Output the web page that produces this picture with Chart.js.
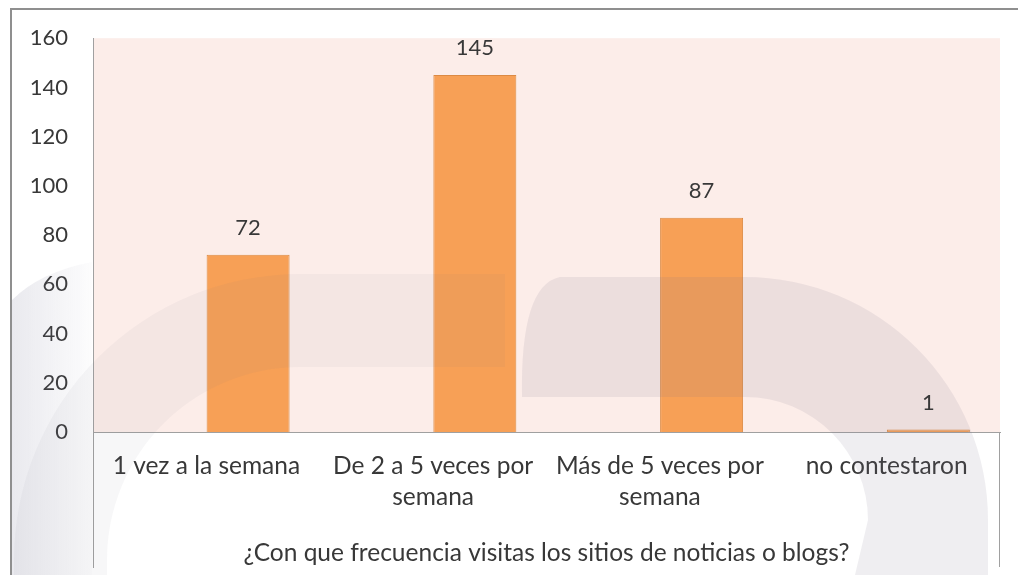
<!DOCTYPE html>
<html>
<head>
<meta charset="utf-8">
<script src="https://cdn.jsdelivr.net/npm/chart.js@4.4.1/dist/chart.umd.min.js"></script>
<style>
    html, body { margin: 0; padding: 0; background: #ffffff; }
    #frecuenciaChart { display: block; }
</style>
</head>
<body>
<canvas id="frecuenciaChart" width="1018" height="575"></canvas>
<script>
// Chart data
const categories = [
    '1 vez a la semana',
    ['De 2 a 5 veces por', 'semana'],
    ['Más de 5 veces por', 'semana'],
    'no contestaron'
];
const positions = [0, 1, 2, 3];
const respuestas = [72, 145, 87, 1];
const yTicks = [0, 20, 40, 60, 80, 100, 120, 140, 160];
const axisTitle = '¿Con que frecuencia visitas los sitios de noticias o blogs?';

const textColor = '#383838';
const fontFamily = 'Lato, "Open Sans", sans-serif';

// Background: frame, pink plot area and the faint watermark
const backgroundPlugin = {
    id: 'background',
    beforeDraw(chart) {
        const ctx = chart.ctx;
        const area = chart.chartArea;
        ctx.save();
        ctx.fillStyle = '#fcede9';
        ctx.fillRect(area.left, area.top, area.right - area.left, area.bottom - area.top);

        // outer frame
        ctx.strokeStyle = '#8f8f8f';
        ctx.lineWidth = 2;
        ctx.beginPath();
        ctx.moveTo(11, 575);
        ctx.lineTo(11, 9);
        ctx.lineTo(1018, 9);
        ctx.stroke();

        // lines around the label area
        ctx.strokeStyle = '#a0a0a0';
        ctx.lineWidth = 1;
        ctx.beginPath();
        ctx.moveTo(area.left + 0.5, area.bottom);
        ctx.lineTo(area.left + 0.5, 568);
        ctx.moveTo(area.right - 0.5, area.bottom);
        ctx.lineTo(area.right - 0.5, 567);
        ctx.stroke();
        ctx.restore();
    },
    afterDatasetsDraw(chart) {
        const ctx = chart.ctx;
        ctx.save();
        // left arch (very faint)
        ctx.fillStyle = 'rgba(120, 115, 140, 0.06)';
        ctx.beginPath();
        ctx.moveTo(14, 560);
        ctx.arc(300, 560, 286, Math.PI, 1.5 * Math.PI);
        ctx.lineTo(505, 274);
        ctx.lineTo(505, 367);
        ctx.lineTo(300, 367);
        ctx.arc(300, 560, 193, 1.5 * Math.PI, Math.PI, true);
        ctx.lineTo(107, 575);
        ctx.lineTo(14, 575);
        ctx.closePath();
        ctx.fill();
        // darker part of the left band, outside the plot
        const band = ctx.createLinearGradient(12, 0, 92, 0);
        band.addColorStop(0, 'rgba(120, 120, 150, 0.16)');
        band.addColorStop(1, 'rgba(120, 120, 150, 0.02)');
        ctx.fillStyle = band;
        ctx.beginPath();
        ctx.moveTo(12, 575);
        ctx.lineTo(12, 300);
        ctx.quadraticCurveTo(40, 272, 92, 262);
        ctx.lineTo(92, 575);
        ctx.closePath();
        ctx.fill();
        // right arch
        ctx.fillStyle = 'rgba(120, 115, 140, 0.12)';
        ctx.beginPath();
        ctx.moveTo(522, 397);
        ctx.quadraticCurveTo(520, 285, 560, 277);
        ctx.lineTo(745, 277);
        ctx.arc(745, 520, 243, 1.5 * Math.PI, 2 * Math.PI);
        ctx.lineTo(988, 575);
        ctx.lineTo(855, 575);
        ctx.lineTo(868, 520);
        ctx.arc(745, 520, 123, 2 * Math.PI, 1.5 * Math.PI, true);
        ctx.closePath();
        ctx.fill();
        ctx.restore();
    }
};

// Value labels above each bar
const valueLabelPlugin = {
    id: 'valueLabels',
    afterDatasetsDraw(chart) {
        const ctx = chart.ctx;
        const meta = chart.getDatasetMeta(0);
        ctx.save();
        ctx.font = '22px ' + fontFamily;
        ctx.fillStyle = textColor;
        ctx.textAlign = 'center';
        ctx.textBaseline = 'middle';
        meta.data.forEach(function(bar, i) {
            ctx.fillText(String(respuestas[i]), bar.x, bar.y - 27);
        });
        ctx.restore();
    }
};

const chartCtx = document.getElementById('frecuenciaChart');
const frecuenciaChart = new Chart(chartCtx, {
    type: 'bar',
    data: {
        labels: categories,
        datasets: [{
            label: 'Respuestas',
            data: positions.map((p, i) => ({ x: p, y: respuestas[i] })),
            xAxisID: 'xb',
            backgroundColor: '#f7a056',
            borderColor: '#dc8a44',
            borderWidth: 1,
            categoryPercentage: 1,
            barPercentage: 0.366
        }]
    },
    options: {
        responsive: false,
        animation: false,
        layout: {
            padding: { top: 38, right: 18, left: 0, bottom: 0 }
        },
        scales: {
            x: {
                type: 'category',
                position: 'bottom',
                offset: true,
                grid: { display: false, drawTicks: false },
                border: { display: true, color: '#a0a0a0', width: 1 },
                ticks: {
                    color: textColor,
                    font: { family: fontFamily, size: 24.5, lineHeight: 1.25 },
                    padding: 19,
                    maxRotation: 0,
                    autoSkip: false
                },
                title: {
                    display: true,
                    text: axisTitle,
                    color: textColor,
                    font: { family: fontFamily, size: 24.5, lineHeight: 1.2 },
                    padding: { top: 0, bottom: 7 }
                },
                afterFit(scale) {
                    scale.height = 143;
                }
            },
            xb: {
                type: 'linear',
                position: 'bottom',
                display: false,
                offset: false,
                min: -0.684,
                max: 3.316,
                afterBuildTicks(scale) {
                    scale.ticks = positions.map(v => ({ value: v }));
                }
            },
            y: {
                min: 0,
                max: 160,
                grid: { display: false, drawTicks: false },
                border: { display: true, color: '#a0a0a0', width: 1 },
                afterBuildTicks(scale) {
                    scale.ticks = yTicks.map(v => ({ value: v }));
                },
                ticks: {
                    color: textColor,
                    font: { family: fontFamily, size: 22 },
                    padding: 25
                },
                afterFit(scale) {
                    scale.width = 93;
                }
            }
        },
        plugins: {
            legend: { display: false },
            tooltip: { enabled: false }
        }
    },
    plugins: [backgroundPlugin, valueLabelPlugin]
});
</script>
</body>
</html>
